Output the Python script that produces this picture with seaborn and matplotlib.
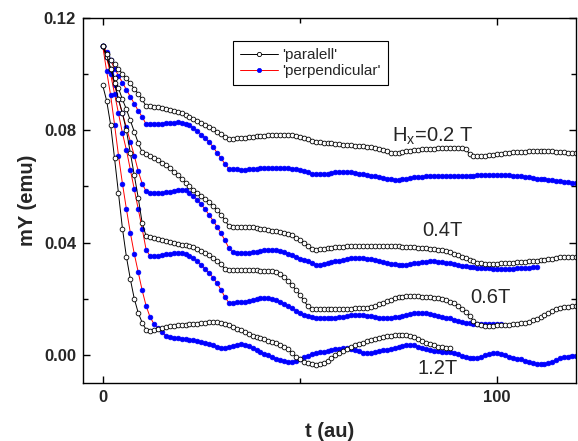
import matplotlib
matplotlib.use('Agg')

import numpy as np
import pandas as pd
import matplotlib.pyplot as plt
from matplotlib.ticker import MultipleLocator, FormatStrFormatter
import seaborn as sns

# ========== DATA ==========
# time grid (au), one sample per unit; mY values below are in 1e-3 emu
t = np.arange(0, 121)

par_02 = [110, 107, 105, 103.5, 102, 100, 98.5, 96.7, 94.8, 93,
          91, 88.6, 88.5, 88.4, 88.2, 88.0, 87.7, 87.4, 87.0, 86.6,
          86.1, 85.5, 84.8, 84.1, 83.4, 82.7, 81.9, 81.1, 80.3, 79.5,
          78.6, 77.5, 76.9, 77.0, 77.2, 77.3, 77.4, 77.6, 77.7, 77.9,
          78.0, 78.1, 78.2, 78.3, 78.4, 78.4, 78.4, 78.3, 78.2, 78.0,
          77.7, 77.3, 76.8, 76.3, 76.0, 75.8, 75.6, 75.5, 75.4, 75.2,
          75.1, 74.9, 74.8, 74.7, 74.5, 74.4, 74.3, 74.1, 74.0, 73.8,
          73.5, 73.0, 72.5, 72.0, 71.8, 72.0, 72.4, 72.6, 72.8, 73.0,
          73.1, 73.2, 73.3, 73.4, 73.5, 73.6, 73.6, 73.6, 73.6, 73.6,
          73.6, 73.6, 73.5, 71.5, 71.0, 70.8, 70.7, 70.9, 71.1, 71.3,
          71.5, 71.7, 71.9, 72.0, 72.1, 72.2, 72.3, 72.4, 72.5, 72.6,
          72.7, 72.7, 72.7, 72.6, 72.5, 72.4, 72.2, 72.1, 72.0, 71.9,
          71.8]

perp_02 = [110, 108, 105, 102, 99.5, 97, 94.5, 92, 89.5, 87,
           84.8, 82.2, 82.1, 82.2, 82.3, 82.4, 82.5, 82.6, 82.7, 82.8,
           82.7, 82.4, 81.8, 80.9, 79.8, 78.5, 77.2, 75.8, 74.0, 72.0,
           70.0, 68.0, 66.3, 66.2, 66.1, 66.0, 66.0, 66.1, 66.2, 66.3,
           66.4, 66.5, 66.6, 66.7, 66.7, 66.7, 66.6, 66.5, 66.3, 66.1,
           65.8, 65.5, 65.0, 64.5, 64.3, 64.3, 64.4, 64.6, 64.8, 65.0,
           65.1, 65.1, 65.1, 65.0, 64.8, 64.6, 64.4, 64.1, 63.9, 63.6,
           63.3, 63.0, 62.7, 62.5, 62.4, 62.4, 62.6, 62.8, 63.0, 63.2,
           63.3, 63.5, 63.6, 63.6, 63.7, 63.7, 63.7, 63.7, 63.7, 63.7,
           63.8, 63.8, 63.8, 63.9, 63.9, 64.0, 64.0, 64.1, 64.1, 64.1,
           64.1, 64.1, 64.1, 64.0, 63.9, 63.8, 63.6, 63.4, 63.2, 63.0,
           62.8, 62.6, 62.5, 62.4, 62.2, 62.0, 61.8, 61.6, 61.5, 61.4,
           61.3]

par_04 = [110, 106, 102, 98.5, 95, 91, 87.5, 83.5, 79.5, 75.5,
          72.2, 71.4, 70.8, 70.1, 69.3, 68.5, 67.5, 66.4, 65.2, 64.0,
          62.6, 61.3, 60.1, 58.9, 57.7, 56.5, 55.4, 54.3, 53.0, 51.6,
          50.0, 48.0, 45.8, 45.7, 45.6, 45.6, 45.5, 45.5, 45.4, 45.2,
          45.0, 44.7, 44.5, 44.3, 44.1, 43.9, 43.6, 43.2, 42.6, 41.8,
          40.9, 40.0, 38.8, 37.7, 37.5, 37.6, 37.8, 38.0, 38.2, 38.4,
          38.5, 38.6, 38.7, 38.8, 38.8, 38.9, 38.9, 38.9, 38.9, 38.9,
          38.9, 38.9, 38.9, 38.8, 38.8, 38.7, 38.6, 38.5, 38.4, 38.3,
          38.2, 38.1, 38.0, 37.8, 37.7, 37.5, 37.2, 36.9, 36.5, 36.0,
          35.5, 35.0, 34.4, 33.9, 33.4, 32.9, 32.6, 32.5, 32.5, 32.5,
          32.5, 32.6, 32.7, 32.8, 32.9, 33.0, 33.1, 33.2, 33.3, 33.4,
          33.5, 33.7, 33.9, 34.1, 34.3, 34.5, 34.7, 34.8, 34.9, 34.9,
          34.9]

perp_04 = [110, 106, 101, 96, 91, 86, 81, 76, 71, 65.5,
           61, 58.3, 57.7, 57.6, 57.6, 57.7, 57.9, 58.2, 58.5, 58.8,
           58.9, 58.6, 57.8, 56.6, 55.2, 53.6, 51.8, 49.8, 47.8, 45.6,
           43.3, 40.8, 38.0, 36.6, 36.4, 36.3, 36.3, 36.4, 36.6, 36.8,
           37.0, 37.2, 37.3, 37.3, 37.2, 37.0, 36.6, 36.1, 35.5, 34.9,
           34.3, 33.8, 33.3, 32.8, 32.2, 32.2, 32.4, 32.7, 33.0, 33.3,
           33.6, 33.9, 34.2, 34.4, 34.5, 34.5, 34.4, 34.2, 34.0, 33.7,
           33.4, 33.1, 32.8, 32.5, 32.3, 32.1, 32.1, 32.2, 32.4, 32.6,
           32.8, 33.0, 33.2, 33.3, 33.3, 33.2, 33.0, 32.8, 32.6, 32.3,
           32.0, 31.8, 31.6, 31.4, 31.2, 31.1, 31.0, 30.9, 30.8, 30.7,
           30.7, 30.6, 30.6, 30.6, 30.7, 30.8, 30.9, 31.0, 31.1, 31.2,
           31.3]

par_06 = [110, 107, 102, 97, 91, 86, 80, 72, 64, 56,
          47, 42.3, 42.0, 41.6, 41.2, 40.8, 40.5, 40.2, 39.9, 39.6,
          39.3, 39.0, 38.7, 38.3, 37.7, 37.0, 36.3, 35.5, 34.6, 33.6,
          32.3, 30.5, 30.2, 30.2, 30.1, 30.1, 30.1, 30.1, 30.1, 30.1,
          30.0, 30.0, 29.9, 29.8, 29.5, 28.9, 27.9, 26.5, 24.9, 23.1,
          21.4, 19.4, 17.3, 16.5, 16.4, 16.3, 16.3, 16.3, 16.3, 16.3,
          16.4, 16.4, 16.5, 16.5, 16.6, 16.6, 16.7, 16.8, 17.1, 17.5,
          18.0, 18.5, 19.1, 19.7, 20.2, 20.6, 20.8, 20.9, 20.9, 20.9,
          20.9, 20.8, 20.7, 20.6, 20.4, 20.2, 19.9, 19.5, 19.0, 18.4,
          17.6, 16.5, 15.2, 13.8, 12.2, 11.0, 10.6, 10.4, 10.4, 10.4,
          10.5, 10.6, 10.7, 10.8, 10.9, 11.0, 11.2, 11.5, 11.9, 12.3,
          12.8, 13.4, 14.1, 14.8, 15.6, 16.3, 16.8, 17.1, 17.2, 17.3,
          17.3]

perp_06 = [110, 106, 100, 93, 86, 79, 73, 66, 59, 52,
           45, 37.5, 35.2, 35.3, 35.4, 35.6, 35.8, 36.0, 36.2, 36.3,
           36.2, 35.9, 35.3, 34.4, 33.3, 32.0, 30.6, 29.1, 27.5, 25.5,
           23.2, 20.5, 18.6, 18.6, 18.7, 18.8, 19.0, 19.3, 19.6, 19.9,
           20.1, 20.2, 20.1, 19.8, 19.4, 18.9, 18.2, 17.4, 16.6, 15.8,
           15.0, 14.3, 13.8, 13.5, 13.3, 13.1, 13.0, 13.0, 13.1, 13.2,
           13.4, 13.6, 13.9, 14.1, 14.3, 14.3, 14.2, 14.0, 13.7, 13.4,
           13.2, 13.1, 13.1, 13.2, 13.4, 13.6, 13.9, 14.2, 14.5, 14.8,
           15.0, 15.1, 15.0, 14.7, 14.3, 13.9, 13.5, 13.2, 13.0, 12.6,
           12.2, 11.8, 11.5, 11.3, 11.1, 11.0, 10.9, 10.9, 10.9, 10.9,
           11.0, 11.0]

par_12 = [96, 90.5, 82, 70, 57.5, 45, 35, 27, 20, 15,
          11.5, 9.0, 8.6, 8.8, 9.2, 9.6, 9.9, 10.2, 10.4, 10.6,
          10.7, 10.8, 10.9, 11.0, 11.1, 11.3, 11.5, 11.6, 11.7, 11.6,
          11.4, 11.1, 10.7, 10.1, 9.4, 8.8, 8.1, 7.5, 6.9, 6.4,
          5.9, 5.5, 5.0, 4.6, 4.2, 3.7, 3.0, 2.0, 0.8, -0.6,
          -1.6, -2.4, -3.0, -3.4, -3.6, -3.4, -2.8, -2.0, -1.0, -0.2,
          0.6, 1.4, 2.1, 2.8, 3.4, 3.9, 4.4, 4.8, 5.2, 5.6,
          5.9, 6.3, 6.6, 6.9, 7.1, 7.2, 7.2, 7.0, 6.7, 6.3,
          5.7, 5.0, 4.4, 3.9, 3.4, 3.0, 2.7, 2.5, 2.4]

perp_12 = [110, 101, 92.5, 82, 71, 61, 52, 43.5, 36, 29.5,
           23, 17.5, 13.5, 11.0, 9.5, 8.0, 6.9, 6.4, 6.1, 5.9,
           5.8, 5.6, 5.4, 5.2, 4.9, 4.6, 4.2, 3.8, 3.4, 3.0,
           2.6, 2.5, 2.8, 3.3, 3.7, 3.9, 3.7, 3.2, 2.5, 1.7,
           1.0, 0.4, -0.2, -0.8, -1.4, -1.9, -2.3, -2.5, -2.4, -2.0,
           -1.4, -0.8, -0.3, 0.2, 0.6, 0.9, 1.2, 1.5, 1.8, 2.0,
           2.2, 2.3, 2.4, 2.2, 1.8, 1.3, 0.8, 0.6, 0.7, 1.0,
           1.3, 1.6, 1.8, 2.1, 2.4, 2.8, 3.2, 3.5, 3.6, 3.4,
           3.0, 2.5, 2.0, 1.7, 1.5, 1.3, 1.2, 1.1, 0.9, 0.6,
           0.2, -0.3, -0.8, -1.1, -1.2, -1.0, -0.6, -0.2, 0.3, 0.6,
           0.6, 0.3, -0.1, -0.6, -1.0, -1.3, -1.6, -2.0, -2.5, -2.9,
           -3.1, -3.1, -3.1, -3.0, -2.5, -1.8, -1.2, -0.9, -0.7, -0.5,
           -0.4]

fields = ['0.2T', '0.4T', '0.6T', '1.2T']
par_series = [par_02, par_04, par_06, par_12]
perp_series = [perp_02, perp_04, perp_06, perp_12]

# field labels placed next to the curves (t, mY)
label_text = [r'H$_{\mathrm{x}}$=0.2 T', '0.4T', '0.6T', '1.2T']
label_t = [73.4, 81.1, 93.3, 79.8]
label_y = [0.0761, 0.0423, 0.0185, -0.0068]

# ========== LONG TABLE ==========
frames = []
for orient, series in [('paralell', par_series), ('perpendicular', perp_series)]:
    for field, vals in zip(fields, series):
        frames.append(pd.DataFrame({'t': t[:len(vals)],
                                    'mY': np.array(vals) / 1000.0,
                                    'field': field,
                                    'orient': orient}))
df = pd.concat(frames, ignore_index=True)

# ========== PLOT ==========
sns.set_style('ticks')
plt.rcParams['font.family'] = ['Liberation Sans', 'DejaVu Sans']
plt.rcParams['mathtext.fontset'] = 'custom'
plt.rcParams['mathtext.rm'] = 'Liberation Sans'

fig = plt.figure(figsize=(5.78, 4.41), dpi=100)
ax = fig.add_axes([0.1436, 0.1315, 0.853, 0.8277])

sns.lineplot(data=df[df.orient == 'perpendicular'], x='t', y='mY', units='field',
             estimator=None, sort=False, color='red', lw=0.7, marker='o',
             markersize=3.4, markerfacecolor='blue', markeredgecolor='blue',
             markeredgewidth=0.5, ax=ax)
sns.lineplot(data=df[df.orient == 'paralell'], x='t', y='mY', units='field',
             estimator=None, sort=False, color='black', lw=0.7, marker='o',
             markersize=3.4, markerfacecolor='white', markeredgecolor='black',
             markeredgewidth=0.6, ax=ax)

for txt, tx, ty in zip(label_text, label_t, label_y):
    ax.text(tx, ty, txt, fontsize=14.5, ha='left', va='baseline')

ax.set_xlim(-5, 120)
ax.set_ylim(-0.01, 0.12)
ax.xaxis.set_major_locator(MultipleLocator(100))
ax.xaxis.set_minor_locator(MultipleLocator(50))
ax.yaxis.set_major_locator(MultipleLocator(0.04))
ax.yaxis.set_minor_locator(MultipleLocator(0.02))
ax.yaxis.set_major_formatter(FormatStrFormatter('%.2f'))
ax.tick_params(which='both', direction='in', top=True, right=True, width=1, color='black')
ax.tick_params(which='major', length=5, labelsize=12, pad=5)
ax.tick_params(which='minor', length=3.4)
for lab in ax.get_xticklabels() + ax.get_yticklabels():
    lab.set_fontweight('bold')
for sp in ax.spines.values():
    sp.set_linewidth(1.0)
    sp.set_color('black')

ax.set_xlabel('t (au)', fontsize=14.5, fontweight='bold')
ax.set_ylabel('mY (emu)', fontsize=14.5, fontweight='bold')
ax.xaxis.set_label_coords(0.5, -0.107)
ax.yaxis.set_label_coords(-0.093, 0.5)

handles = [ax.lines[-1], ax.lines[0]]
leg = ax.legend(handles, ["'paralell'", "'perpendicular'"], loc='upper left',
                bbox_to_anchor=(0.304, 0.937), borderaxespad=0, frameon=True,
                fancybox=False, framealpha=1, edgecolor='black', fontsize=11,
                handlelength=2.5, handletextpad=0.3, labelspacing=0.15,
                borderpad=0.45, markerscale=0.9)
leg.get_frame().set_linewidth(0.8)

fig.savefig('out.png', dpi=100)
